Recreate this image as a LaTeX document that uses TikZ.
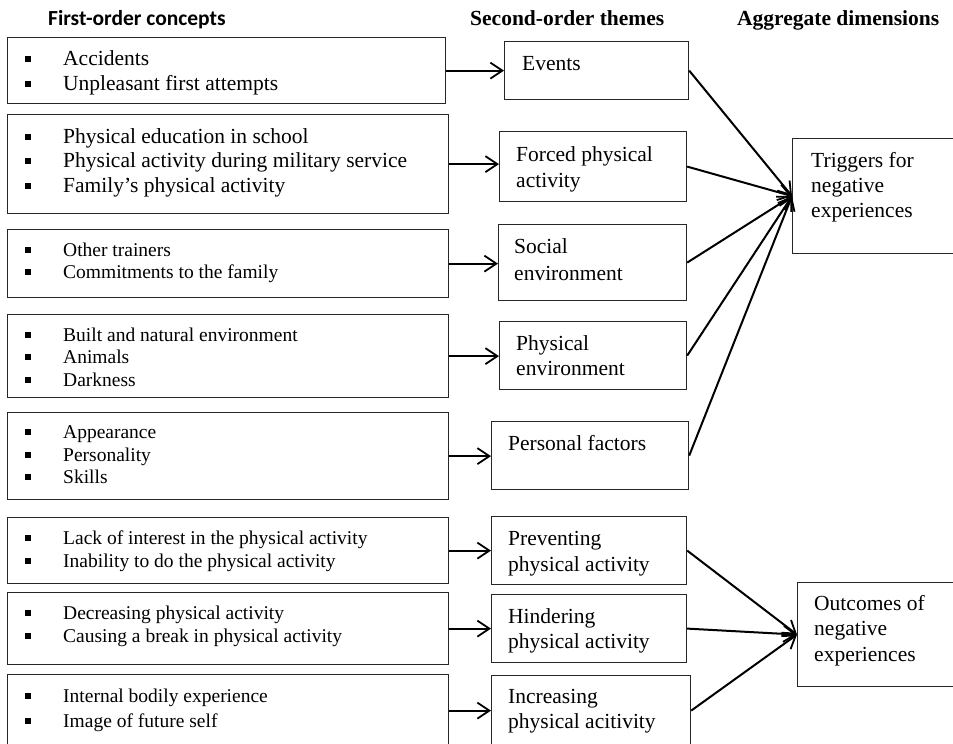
\documentclass[tikz,border=0pt]{standalone}
\usepackage{fontspec}
\setmainfont{Liberation Serif}
\newfontfamily\calfont{Carlito}
\usetikzlibrary{arrows.meta}
\newcommand{\bsq}{\makebox[38pt][l]{\rule[3.5pt]{6pt}{6pt}}}
\tikzset{
  box/.style={draw=black!85, line width=1.2pt, inner sep=0pt, anchor=north west},
  big/.style={anchor=base west, inner sep=0pt, font=\fontsize{21.5}{24.5}\selectfont},
  small/.style={anchor=base west, inner sep=0pt, font=\fontsize{19.5}{22.5}\selectfont},
  head/.style={anchor=base west, inner sep=0pt, font=\fontsize{21.5}{24.5}\selectfont\bfseries},
  arr/.style={line width=2pt, -{Straight Barb[length=12pt,width=16pt,line width=1.8pt]}},
}
\begin{document}
\begin{tikzpicture}[x=1pt,y=-1pt]
\useasboundingbox (0,0) rectangle (953,744);
\clip (0,0) rectangle (953,744);
% headers
\node[head, font=\fontsize{21.5}{24.5}\selectfont\calfont\bfseries] (h1) at (48,25) {First-order concepts};
\node[head] (h2) at (470,25) {Second-order themes};
\node[head] (h3) at (737,25) {Aggregate dimensions};
% first column boxes
\node[box, minimum width=438pt, minimum height=66pt] (b1) at (7,37) {};
\node[box, minimum width=441pt, minimum height=99pt] (b2) at (7,114) {};
\node[box, minimum width=441pt, minimum height=68pt] (b3) at (7,229) {};
\node[box, minimum width=441pt, minimum height=83pt] (b4) at (7,314) {};
\node[box, minimum width=441pt, minimum height=87pt] (b5) at (7,412) {};
\node[box, minimum width=441pt, minimum height=66pt] (b6) at (7,517) {};
\node[box, minimum width=441pt, minimum height=72pt] (b7) at (7,592) {};
\node[box, minimum width=441pt, minimum height=72pt] (b8) at (7,674) {};
% first column texts
\node[big] (t1a) at (25,65) {\bsq Accidents};
\node[big] (t1b) at (25,90) {\bsq Unpleasant first attempts};
\node[big] (t2a) at (25,143) {\bsq Physical education in school};
\node[big] (t2b) at (25,167) {\bsq Physical activity during military service};
\node[big] (t2c) at (25,192) {\bsq Family’s physical activity};
\node[small] (t3a) at (25,256) {\bsq Other trainers};
\node[small] (t3b) at (25,278) {\bsq Commitments to the family};
\node[small] (t4a) at (25,341) {\bsq Built and natural environment};
\node[small] (t4b) at (25,363) {\bsq Animals};
\node[small] (t4c) at (25,386) {\bsq Darkness};
\node[small] (t5a) at (25,438) {\bsq Appearance};
\node[small] (t5b) at (25,461) {\bsq Personality};
\node[small] (t5c) at (25,483) {\bsq Skills};
\node[small] (t6a) at (25,544) {\bsq Lack of interest in the physical activity};
\node[small] (t6b) at (25,567) {\bsq Inability to do the physical activity};
\node[small] (t7a) at (25,619) {\bsq Decreasing physical activity};
\node[small] (t7b) at (25,642) {\bsq Causing a break in physical activity};
\node[small] (t8a) at (25,702) {\bsq Internal bodily experience};
\node[small] (t8b) at (25,727) {\bsq Image of future self};
% second column boxes
\node[box, minimum width=184pt, minimum height=58pt] (c1) at (504,41) {};
\node[box, minimum width=187pt, minimum height=70pt] (c2) at (499,131) {};
\node[box, minimum width=188pt, minimum height=76pt] (c3) at (498,224) {};
\node[box, minimum width=187pt, minimum height=68pt] (c4) at (499,321) {};
\node[box, minimum width=197pt, minimum height=68pt] (c5) at (491,421) {};
\node[box, minimum width=195pt, minimum height=68pt] (c6) at (491,516) {};
\node[box, minimum width=195pt, minimum height=68pt] (c7) at (491,594) {};
\node[box, minimum width=199pt, minimum height=70pt] (c8) at (491,675) {};
% second column texts
\node[big] (s1) at (522,70) {Events};
\node[big] (s2a) at (516,161) {Forced physical};
\node[big] (s2b) at (516,187) {activity};
\node[big] (s3a) at (514,253) {Social};
\node[big] (s3b) at (514,280) {environment};
\node[big] (s4a) at (516,350) {Physical};
\node[big] (s4b) at (516,375) {environment};
\node[big] (s5) at (508,450) {Personal factors};
\node[big] (s6a) at (508,545) {Preventing};
\node[big] (s6b) at (508,571) {physical activity};
\node[big] (s7a) at (508,623) {Hindering};
\node[big] (s7b) at (508,648) {physical activity};
\node[big] (s8a) at (508,703) {Increasing};
\node[big] (s8b) at (508,728) {physical acitivity};
% aggregate boxes
\node[box, minimum width=190pt, minimum height=115pt] (d1) at (792,138) {};
\node[box, minimum width=190pt, minimum height=104pt] (d2) at (797,582) {};
\node[big] (a1a) at (811,167) {Triggers for};
\node[big] (a1b) at (811,192) {negative};
\node[big] (a1c) at (811,217) {experiences};
\node[big] (a2a) at (814,610) {Outcomes of};
\node[big] (a2b) at (814,635) {negative};
\node[big] (a2c) at (814,661) {experiences};
% arrows first to second
\foreach \i in {1,...,8}{
  \draw[arr] (b\i.east) -- (c\i.west |- b\i.east);
}
% arrows to aggregates
\foreach \i in {1,...,5}{
  \draw[arr] (c\i.east) -- (d1.west);
}
\foreach \i in {6,7,8}{
  \draw[arr] (c\i.east) -- (d2.west);
}
\end{tikzpicture}
\end{document}
